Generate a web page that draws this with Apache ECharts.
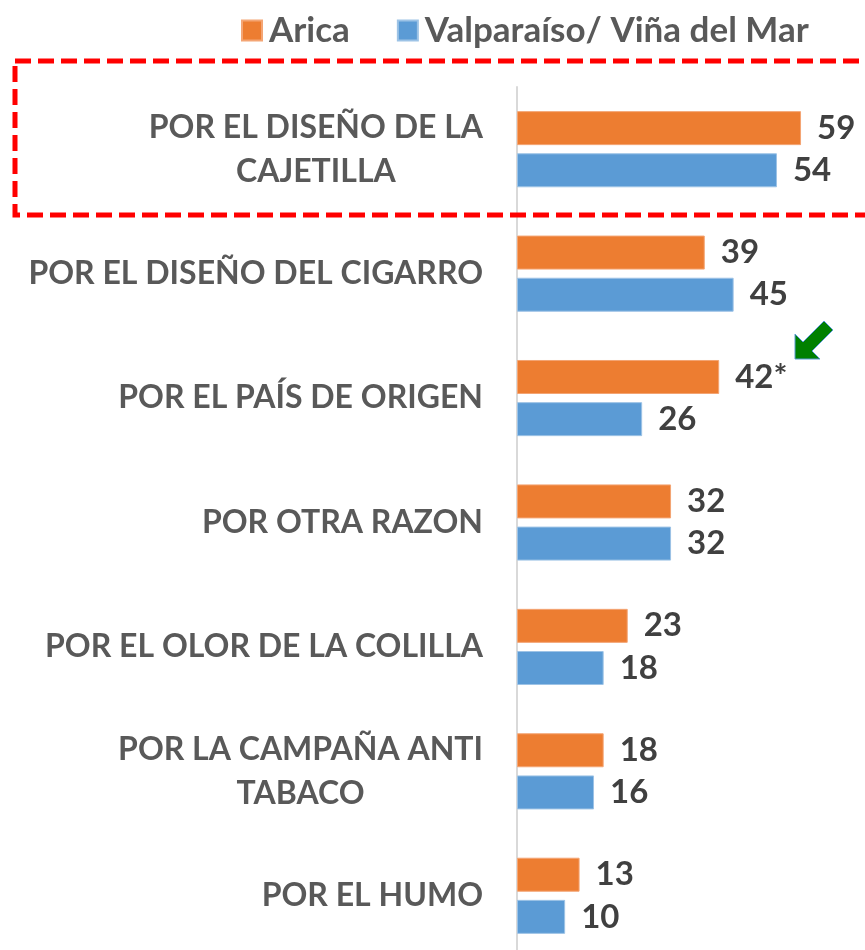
<!DOCTYPE html>
<html>
<head>
<meta charset="utf-8">
<script src="https://cdn.jsdelivr.net/npm/echarts@6/dist/echarts.min.js"></script>
<style>
  html, body { margin: 0; padding: 0; background: #fff; }
  #chart { width: 865px; height: 950px; }
</style>
</head>
<body>
<div id="chart"></div>
<script>
// datos del grafico
var categorias = [
    'POR EL DISEÑO DE LA\nCAJETILLA',
    'POR EL DISEÑO DEL CIGARRO',
    'POR EL PAÍS DE ORIGEN',
    'POR OTRA RAZON',
    'POR EL OLOR DE LA COLILLA',
    'POR LA CAMPAÑA ANTI\nTABACO',
    'POR EL HUMO'
];
var arica = [59, 39, 42, 32, 23, 18, 13];
var aricaMarcas = ['', '', '*', '', '', '', ''];
var valparaiso = [54, 45, 26, 32, 18, 16, 10];

var fuente = 'Lato';
var chart = echarts.init(document.getElementById('chart'));

var option = {
    animation: false,
    textStyle: { fontFamily: fuente },
    legend: {
        top: 8,
        left: 236,
        icon: 'rect',
        itemWidth: 20,
        itemHeight: 20,
        itemGap: 47,
        textStyle: {
            fontFamily: fuente,
            fontSize: 35,
            fontWeight: 'bold',
            color: '#595959',
            padding: [0, 0, 0, 2]
        },
        data: ['Arica', 'Valparaíso/ Viña del Mar']
    },
    grid: {
        left: 517,
        top: 87,
        width: 337,
        height: 871,
        containLabel: false,
        outerBoundsMode: 'none'
    },
    xAxis: {
        type: 'value',
        min: 0,
        max: 70,
        show: false
    },
    yAxis: {
        type: 'category',
        inverse: true,
        data: categorias,
        axisLine: { show: true, lineStyle: { color: '#d9d9d9', width: 2 } },
        axisTick: { show: false },
        splitLine: { show: false },
        axisLabel: {
            margin: 34,
            fontFamily: fuente,
            fontSize: 32,
            fontWeight: 'bold',
            color: '#595959',
            lineHeight: 44,
            formatter: function (v) {
                return v.split('\n').map(function (l) { return '{c|' + l + '}'; }).join('\n');
            },
            rich: {
                c: {
                    align: 'center',
                    fontFamily: fuente,
                    fontSize: 32,
                    fontWeight: 'bold',
                    color: '#595959',
                    lineHeight: 44
                }
            }
        }
    },
    series: [
        {
            name: 'Arica',
            type: 'bar',
            data: arica,
            barWidth: 34,
            barGap: '24%',
            itemStyle: { color: '#ED7D31', borderColor: '#F4A574', borderWidth: 1 },
            label: {
                show: true,
                position: 'right',
                distance: 16,
                fontFamily: fuente,
                fontSize: 33,
                fontWeight: 'bold',
                color: '#404040',
                formatter: function (p) { return p.value + aricaMarcas[p.dataIndex]; }
            }
        },
        {
            name: 'Valparaíso/ Viña del Mar',
            type: 'bar',
            data: valparaiso,
            barWidth: 34,
            itemStyle: { color: '#5B9BD5', borderColor: '#9DC3E6', borderWidth: 1 },
            label: {
                show: true,
                position: 'right',
                distance: 16,
                fontFamily: fuente,
                fontSize: 33,
                fontWeight: 'bold',
                color: '#404040'
            }
        }
    ],
    graphic: [
        {
            // recuadro rojo punteado
            type: 'rect',
            shape: { x: 15, y: 61, width: 880, height: 154 },
            style: { fill: 'none', stroke: '#FF0000', lineWidth: 5, lineDash: [16, 7] },
            z: 100
        },
        {
            // flecha verde
            type: 'polygon',
            shape: {
                points: [[795, 359], [795, 334], [803, 342], [824, 321], [833, 330], [812, 351], [820, 359]]
            },
            style: { fill: '#008000', stroke: '#5B9BD5', lineWidth: 1 },
            z: 100
        }
    ]
};

option && chart.setOption(option);
</script>
</body>
</html>
